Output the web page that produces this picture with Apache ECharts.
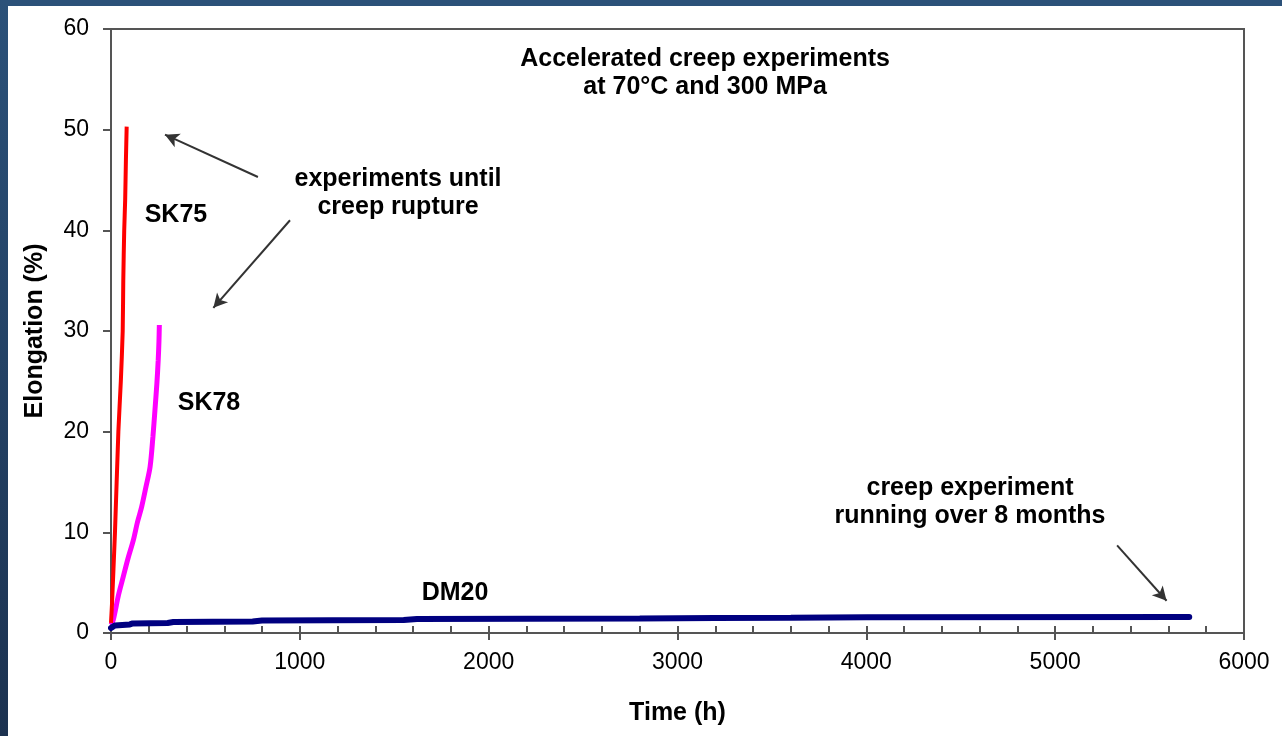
<!DOCTYPE html>
<html>
<head>
<meta charset="utf-8">
<script src="https://cdn.jsdelivr.net/npm/echarts@6/dist/echarts.min.js"></script>
<style>
  html, body { margin: 0; padding: 0; background: #ffffff; }
  #chart { width: 1282px; height: 736px; }
</style>
</head>
<body>
<div id="chart"></div>
<script>
// Creep curves: [time (h), elongation (%)]
const sk75 = [[0, 1.0], [5, 2.8], [21, 10], [39, 20], [52, 25], [62, 30], [65, 35], [70, 40], [75, 43], [79, 47], [83, 50.3]];
const sk78 = [[0, 0.8], [12, 1.3], [40, 3.8], [65, 5.6], [90, 7.4], [118, 9.2], [140, 11], [162, 12.5], [185, 14.5],
              [207, 16.5], [222, 19.5], [233, 22.2], [243, 24.8], [250, 27.1], [254, 29], [256, 30.6]];
const dm20 = [[0, 0.5], [20, 0.75], [100, 0.85], [115, 0.95], [300, 1.0], [330, 1.1], [750, 1.15], [800, 1.25],
              [1550, 1.3], [1620, 1.4], [2800, 1.45], [3200, 1.5], [3600, 1.52], [4000, 1.56], [5710, 1.6]];

// Axis ranges and ticks
const xMin = 0, xMax = 6000, xStep = 1000;
const yMin = 0, yMax = 60, yStep = 10;

// Text notes anchored in data units: [time, elongation, text]
const curveLabels = [[344, 41.5, 'SK75'], [519, 22.8, 'SK78'], [1822, 4.0, 'DM20']];
const notes = [
  [3146, 55.6, 'Accelerated creep experiments\nat 70°C and 300 MPa'],
  [1520, 43.7, 'experiments until\ncreep rupture'],
  [4549, 13.0, 'creep experiment\nrunning over 8 months']
];
// Pointer arrows: [fromTime, fromElong, toTime, toElong]
const arrows = [[778, 45.3, 286, 49.5], [948, 41.0, 542, 32.3], [5328, 8.7, 5590, 3.2]];

const FONT = 'Arial, "Liberation Sans", sans-serif';
const chart = echarts.init(document.getElementById('chart'), null, { renderer: 'canvas' });

const textSeries = (data, lh) => ({
  type: 'scatter',
  data: data,
  symbolSize: 0,
  silent: true,
  z: 5,
  itemStyle: { opacity: 1 },
  label: {
    show: true,
    position: 'inside',
    align: 'center',
    verticalAlign: 'middle',
    formatter: p => p.data[2],
    color: '#000',
    fontFamily: FONT,
    fontWeight: 'bold',
    fontSize: 25,
    lineHeight: lh
  }
});

chart.setOption({
  animation: false,
  backgroundColor: '#ffffff',
  graphic: [
    { type: 'rect', left: 0, top: 0, shape: { width: 1282, height: 6 }, style: { fill: '#2b5179' }, z: 100 },
    { type: 'rect', left: 0, top: 0, shape: { width: 8, height: 736 },
      style: { fill: new echarts.graphic.LinearGradient(0, 0, 0, 1, [
        { offset: 0, color: '#2b5179' }, { offset: 1, color: '#1c3250' }]) }, z: 100 }
  ],
  grid: {
    left: 111, right: 38, top: 29, bottom: 103,
    show: true, borderColor: '#555', borderWidth: 2, backgroundColor: 'transparent'
  },
  xAxis: [
    {
      type: 'value', min: xMin, max: xMax, interval: xStep,
      name: 'Time (h)', nameLocation: 'middle', nameGap: 68,
      nameTextStyle: { fontFamily: FONT, fontWeight: 'bold', fontSize: 25, color: '#000' },
      axisLine: { show: true, lineStyle: { color: '#555', width: 2 } },
      axisTick: { show: true, inside: true, length: 7, lineStyle: { color: '#555', width: 2 } },
      minorTick: { show: true, splitNumber: 5, length: 7, lineStyle: { color: '#555', width: 2 } },
      axisLabel: { margin: 18, fontFamily: FONT, fontSize: 23, color: '#000', formatter: v => String(v) },
      splitLine: { show: false }
    },
    {
      type: 'value', min: xMin, max: xMax, interval: xStep, position: 'bottom',
      axisLine: { show: false },
      axisTick: { show: true, inside: false, length: 7, lineStyle: { color: '#555', width: 2 } },
      axisLabel: { show: false },
      splitLine: { show: false }
    }
  ],
  yAxis: {
    type: 'value', min: yMin, max: yMax, interval: yStep,
    name: 'Elongation (%)', nameLocation: 'middle', nameGap: 63,
    nameTextStyle: { fontFamily: FONT, fontWeight: 'bold', fontSize: 25, color: '#000' },
    axisLine: { show: true, lineStyle: { color: '#555', width: 2 } },
    axisTick: { show: true, inside: false, length: 8, lineStyle: { color: '#555', width: 2 } },
    axisLabel: { margin: 22, fontFamily: FONT, fontSize: 23, color: '#000', formatter: v => String(v) },
    splitLine: { show: false }
  },
  series: [
    { name: 'SK78', type: 'line', data: sk78, showSymbol: false, smooth: 0.3,
      lineStyle: { color: '#ff00ff', width: 5 }, z: 2 },
    { name: 'SK75', type: 'line', data: sk75, showSymbol: false, smooth: 0.2,
      lineStyle: { color: '#ff0000', width: 4 }, z: 3 },
    { name: 'DM20', type: 'line', data: dm20, showSymbol: false,
      lineStyle: { color: '#000080', width: 6, cap: 'round' }, z: 4 },
    textSeries(curveLabels, 30),
    Object.assign(textSeries(notes, 28), {
      markLine: {
        silent: true,
        symbol: ['none', 'arrow'],
        symbolSize: [11, 14],
        label: { show: false },
        lineStyle: { color: '#333', width: 2, type: 'solid', opacity: 1 },
        itemStyle: { color: '#111' },
        data: arrows.map(a => [{ coord: [a[0], a[1]] }, { coord: [a[2], a[3]] }])
      }
    })
  ]
});
</script>
</body>
</html>
